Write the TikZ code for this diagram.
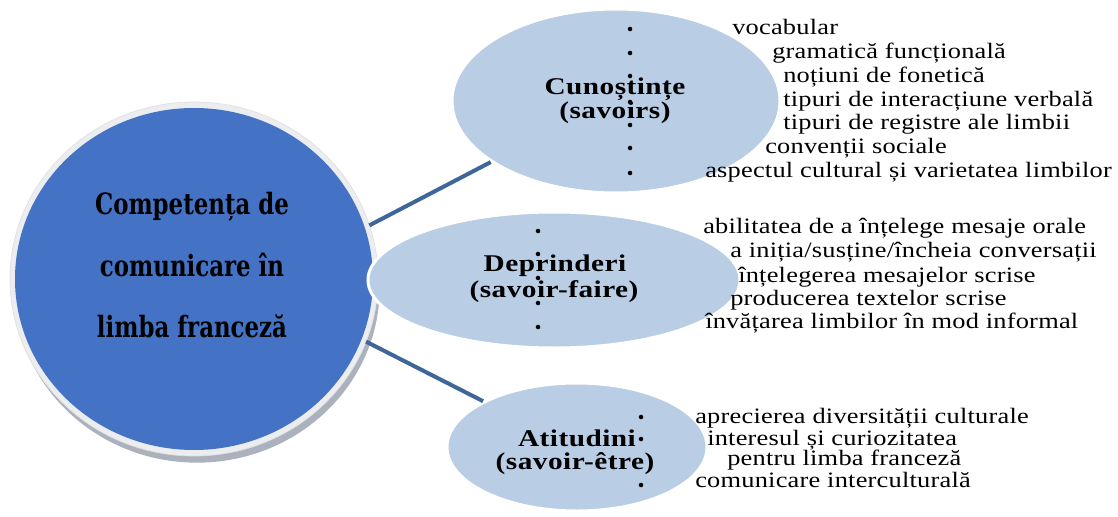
\documentclass[tikz,border=0pt]{standalone}
\usepackage{fontspec}
\setmainfont{Liberation Serif}
\newfontfamily\listfont[FakeStretch=1.2,LetterSpace=1]{Liberation Serif}
\newfontfamily\headfont[FakeStretch=1.22,LetterSpace=2]{Liberation Serif}
\newfontfamily\hubfont[FakeStretch=0.78]{DejaVu Serif}
\usetikzlibrary{shapes.geometric}
\definecolor{hubblue}{RGB}{68,114,196}
\definecolor{petal}{RGB}{185,205,229}
\definecolor{linkblue}{RGB}{62,102,152}
\definecolor{rimgray}{RGB}{236,237,240}
\definecolor{shade}{RGB}{150,158,172}
\begin{document}
\begin{tikzpicture}[x=0.75pt,y=-0.75pt,
  oval/.style={ellipse,inner sep=0pt,outer sep=0pt},
  petalnode/.style={ellipse,inner sep=0pt,fill=petal,draw=white,line width=2.25pt},
  link/.style={draw=linkblue,line width=3pt},
  hubtxt/.style={anchor=base,inner sep=0pt,font=\hubfont\bfseries\fontsize{22}{26}\selectfont},
  headtxt/.style={anchor=base,inner sep=0pt,font=\headfont\bfseries\fontsize{18}{20}\selectfont},
  listtxt/.style={anchor=base west,inner sep=0pt,font=\listfont\fontsize{16.5}{18}\selectfont},
  dot/.style={fill=black}]
\useasboundingbox (0,0) rectangle (1118,517);

% central circle with its rim and shadow
\node[oval,fill=shade,opacity=0.8,minimum width=274pt,minimum height=262pt] (shadow) at (197,288) {};
\node[oval,fill=rimgray,draw=gray!25,line width=0.5pt,minimum width=276pt,minimum height=265.5pt] (rim) at (194,279) {};
\node[oval,fill=hubblue,minimum width=268.5pt,minimum height=256.5pt] (hub) at (194,279) {};

\node[hubtxt] (h1) at (192,214) {Competența de};
\node[hubtxt] (h2) at (192,276) {comunicare în};
\node[hubtxt] (h3) at (192,337) {limba franceză};

% the three branches
\node[petalnode,minimum width=246pt,minimum height=138pt] (know) at (616,101) {};
\node[petalnode,minimum width=279pt,minimum height=102pt] (skill) at (554,280) {};
\node[petalnode,minimum width=195pt,minimum height=96pt] (attit) at (577,447) {};

% connectors
\draw[link] (rim.17.7) -- (know.206.2);
\draw[link] (rim.340.2) -- (attit.154.2);

% titles
\node[headtxt] (k1) at (615,94.5) {Cunoștințe};
\node[headtxt] (k2) at (615,118) {(savoirs)};
\node[headtxt] (s1) at (555,271) {Deprinderi};
\node[headtxt] (s2) at (554,297) {(savoir-faire)};
\node[headtxt] (a1) at (577,446) {Atitudini};
\node[headtxt] (a2) at (575,469) {(savoir-être)};

% bullets
\foreach \y in {29,53,76,102,125,148,173} \fill[dot] (630,\y) circle[radius=1.7pt];
\foreach \y in {231,254,278,303,327} \fill[dot] (538,\y) circle[radius=1.7pt];
\foreach \y in {417,439,485} \fill[dot] (641,\y) circle[radius=1.7pt];

% knowledge items
\node[listtxt] (k3) at (732,35) {vocabular};
\node[listtxt] (k4) at (772,59) {gramatică funcțională};
\node[listtxt] (k5) at (783,83) {noțiuni de fonetică};
\node[listtxt] (k6) at (783,107) {tipuri de interacțiune verbală};
\node[listtxt] (k7) at (783,130) {tipuri de registre ale limbii};
\node[listtxt] (k8) at (765,153) {convenții sociale};
\node[listtxt] (k9) at (705,177) {aspectul cultural și varietatea limbilor};

% skill items
\node[listtxt] (s3) at (703,233) {abilitatea de a înțelege mesaje orale};
\node[listtxt] (s4) at (730,257) {a iniția/susține/încheia conversații};
\node[listtxt] (s5) at (738,282) {înțelegerea mesajelor scrise};
\node[listtxt] (s6) at (730,305) {producerea textelor scrise};
\node[listtxt] (s7) at (705,328) {învățarea limbilor în mod informal};

% attitude items
\node[listtxt] (a3) at (695,423) {aprecierea diversității culturale};
\node[listtxt] (a4) at (707,445) {interesul și curiozitatea};
\node[listtxt] (a5) at (727,465) {pentru limba franceză};
\node[listtxt] (a6) at (695,487) {comunicare interculturală};
\end{tikzpicture}
\end{document}
